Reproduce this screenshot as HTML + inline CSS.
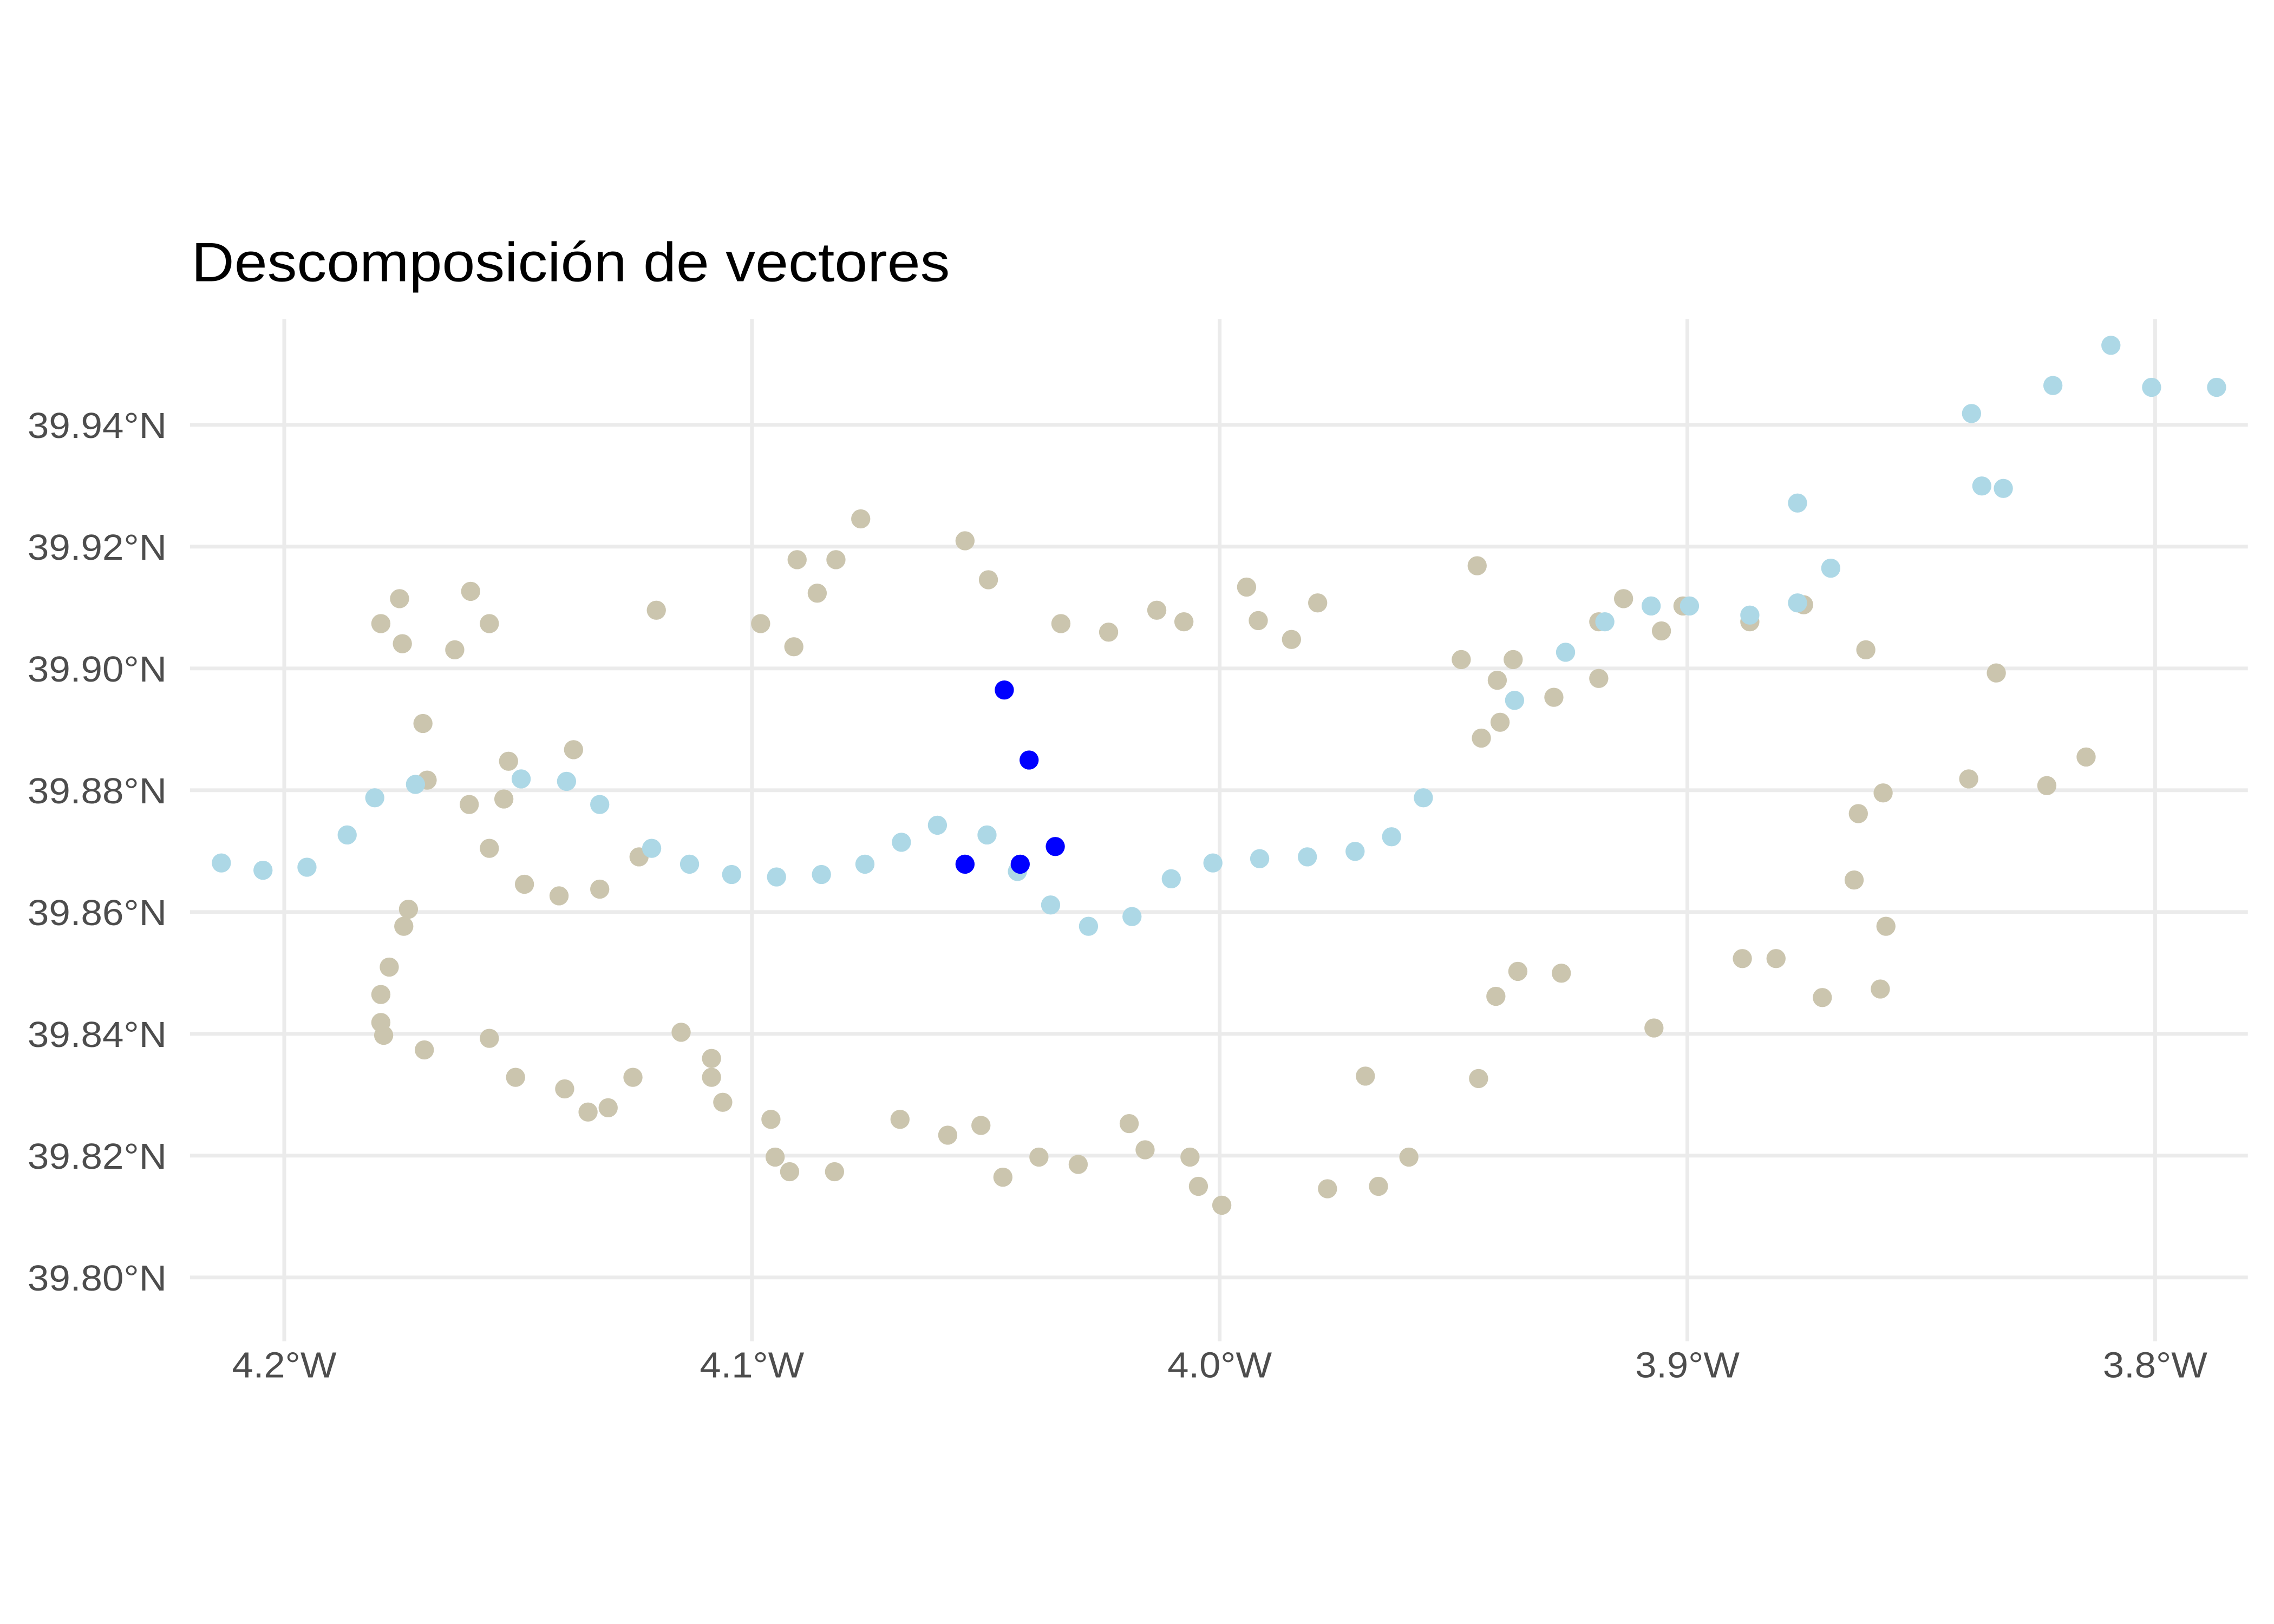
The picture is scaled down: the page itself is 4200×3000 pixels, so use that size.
<!DOCTYPE html>
<html><head><meta charset="utf-8"><style>
html,body{margin:0;padding:0;background:#fff}
svg{display:block}
text{font-family:"Liberation Sans",Arial,sans-serif}
</style></head><body>
<svg id="chart" width="4200" height="3000" viewBox="0 0 1568 1120" xmlns="http://www.w3.org/2000/svg">
<rect width="1568" height="1120" fill="#fff"/>
<text x="132" y="194" font-size="38" textLength="523" lengthAdjust="spacingAndGlyphs" fill="#000">Descomposición de vectores</text>
<g id="grid"></g>
<g id="ylabels"></g>
<g id="xlabels"></g>
<g id="pts"></g>
</svg>
<script>
// Data (longitude in degrees West, latitude in degrees North)
const xTicks = [4.2, 4.1, 4.0, 3.9, 3.8];
const xTickLabels = ["4.2°W","4.1°W","4.0°W","3.9°W","3.8°W"];
const yTicks = [39.80,39.82,39.84,39.86,39.88,39.90,39.92,39.94];
const yTickLabels = ["39.80°N","39.82°N","39.84°N","39.86°N","39.88°N","39.90°N","39.92°N","39.94°N"];

const tanLon = [4.1755,4.1795,4.1749,4.1603,4.1563,4.1637,4.1705,4.1696,4.1522,4.1532,4.1606,4.1563,4.1488,4.1414,4.1327,4.1383,4.1243,4.1736,4.1746,4.1777,4.1795,4.1795,4.1789,4.1702,4.1563,4.1507,4.1402,4.1352,4.1309,4.1256,4.1153,4.1088,4.1088,4.1064,4.0961,4.0952,4.0921,4.0825,4.0685,4.0583,4.0512,4.0465,4.0388,4.0304,4.0195,4.0161,4.0065,4.0047,3.9997,3.9771,3.9662,3.9597,3.9690,3.9448,3.9411,3.9364,3.9271,3.9073,3.8884,3.8812,3.8713,3.8589,3.8577,3.8645,3.8636,3.8583,3.8400,3.8233,3.8149,3.8341,3.8620,3.8753,3.8868,3.9011,3.9057,3.9138,3.9191,3.9191,3.9287,3.9402,3.9408,3.9374,3.9485,3.9451,3.9442,3.9792,3.9848,3.9919,3.9944,4.0078,4.0136,4.0239,4.0341,4.0496,4.0546,4.0769,4.0822,4.0905,4.0862,4.0983,4.0912,4.1206];
const tanLat = [39.9117,39.9076,39.9043,39.9129,39.9076,39.9033,39.8912,39.8819,39.8850,39.8788,39.8779,39.8707,39.8648,39.8629,39.8640,39.8869,39.8693,39.8607,39.8579,39.8512,39.8467,39.8421,39.8400,39.8376,39.8395,39.8331,39.8312,39.8274,39.8281,39.8331,39.8405,39.8362,39.8331,39.8290,39.8262,39.8200,39.8176,39.8176,39.8262,39.8236,39.8252,39.8167,39.8200,39.8188,39.8255,39.8212,39.8200,39.8152,39.8121,39.8148,39.8152,39.8200,39.8333,39.8329,39.8464,39.8505,39.8502,39.8412,39.8526,39.8526,39.8462,39.8476,39.8579,39.8655,39.8764,39.8798,39.8821,39.8810,39.8857,39.8995,39.9033,39.9107,39.9079,39.9105,39.9064,39.9117,39.9079,39.8986,39.8955,39.8914,39.8983,39.9017,39.9017,39.9171,39.8888,39.9110,39.9050,39.9081,39.9136,39.9079,39.9098,39.9062,39.9076,39.9148,39.9212,39.9248,39.9181,39.9181,39.9126,39.9076,39.9038,39.9098];

const roadLon = [4.2136,4.2047,4.1953,4.1867,4.1808,4.1721,4.1495,4.1398,4.1327,4.1216,4.1135,4.1045,4.0949,4.0853,4.0760,4.0682,4.0605,4.0499,4.0434,4.0363,4.0282,4.0189,4.0105,4.0016,3.9916,3.9814,3.9712,3.9634,3.9566,3.9371,3.9262,3.9178,3.9079,3.8997,3.8868,3.8766,3.8695,3.8766,3.8394,3.8372,3.8326,3.8220,3.8096,3.8009,3.7870];
const roadLat = [39.8683,39.8671,39.8676,39.8729,39.8790,39.8812,39.8821,39.8817,39.8779,39.8707,39.8681,39.8664,39.8660,39.8664,39.8681,39.8717,39.8745,39.8729,39.8669,39.8614,39.8579,39.8595,39.8657,39.8683,39.8690,39.8693,39.8702,39.8726,39.8790,39.8950,39.9029,39.9079,39.9105,39.9105,39.9090,39.9110,39.9167,39.9274,39.9421,39.9302,39.9298,39.9467,39.9533,39.9464,39.9464];

const siteLon = [4.0462,4.0409,4.0353,4.0546,4.0428];
const siteLat = [39.8967,39.8852,39.8710,39.8681,39.8681];

// Axes
const panel = {x0:131, x1:1550, y0:220, y1:925};
function sx(lonW){ return 196.5 + (4.2 - lonW) * 3225; }
function sy(lat){ return 294 + (39.94 - lat) * 4200; }

const NS = "http://www.w3.org/2000/svg";
function mk(tag, attrs, parent){
  const e = document.createElementNS(NS, tag);
  for (const k in attrs) e.setAttribute(k, attrs[k]);
  parent.appendChild(e);
  return e;
}
const grid = document.getElementById('grid');
const ylab = document.getElementById('ylabels');
const xlab = document.getElementById('xlabels');
const pts = document.getElementById('pts');

yTicks.forEach((v,i)=>{
  const y = sy(v) - 1;
  const l = mk('line',{x1:panel.x0,x2:panel.x1,y1:y,y2:y,stroke:'#ebebeb','stroke-width':2.6},grid);
  
  
  const t = mk('text',{x:115,y:y+9,'text-anchor':'end','font-size':25,fill:'#4d4d4d',textLength:96,lengthAdjust:'spacingAndGlyphs'},ylab);
  t.textContent = yTickLabels[i];
  
  
});
xTicks.forEach((v,i)=>{
  const x = sx(v) - 0.5;
  const l = mk('line',{x1:x,x2:x,y1:panel.y0,y2:panel.y1,stroke:'#ebebeb','stroke-width':2.6},grid);
  
  
  const t = mk('text',{x:x,y:950,'text-anchor':'middle','font-size':25,fill:'#4d4d4d',textLength:72,lengthAdjust:'spacingAndGlyphs'},xlab);
  t.textContent = xTickLabels[i];
  
  
});

function drawSeries(lons, lats, color, name){
  lons.forEach((lon,i)=>{
    const c = mk('circle',{cx:sx(lon),cy:sy(lats[i]),r:6.6,fill:color},pts);
    
    
  });
}
drawSeries(tanLon, tanLat, '#cbc5ae', 'boundary-point');
drawSeries(roadLon, roadLat, '#add8e6', 'road-point');
drawSeries(siteLon, siteLat, '#0000ff', 'site-point');
</script>
</body></html>
